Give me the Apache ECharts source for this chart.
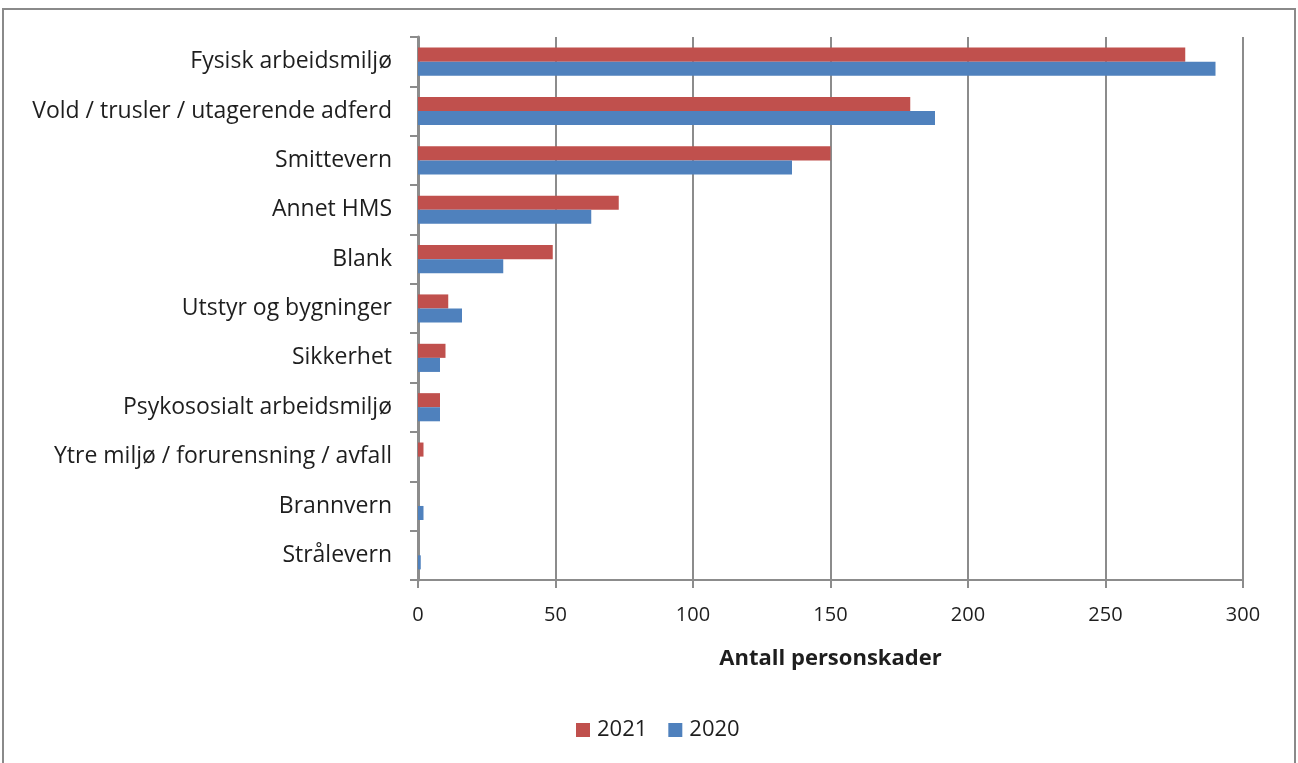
<!DOCTYPE html>
<html>
<head>
<meta charset="utf-8">
<script src="https://cdn.jsdelivr.net/npm/echarts@6/dist/echarts.min.js"></script>
<style>
  html, body { margin: 0; padding: 0; background: #fff; }
  #chart { width: 1298px; height: 763px; }
</style>
</head>
<body>
<div id="chart"></div>
<script>
// Arbeidsrelaterte personskader fordelt på kategori
const categories = [
  'Fysisk arbeidsmiljø',
  'Vold / trusler / utagerende adferd',
  'Smittevern',
  'Annet HMS',
  'Blank',
  'Utstyr og bygninger',
  'Sikkerhet',
  'Psykososialt arbeidsmiljø',
  'Ytre miljø / forurensning / avfall',
  'Brannvern',
  'Strålevern'
];
const values2021 = [279, 179, 150, 73, 49, 11, 10, 8, 2, 0, 0];
const values2020 = [290, 188, 136, 63, 31, 16, 8, 8, 0, 2, 1];
const xTicks = { min: 0, max: 300, interval: 50 };

const FONT = '"Open Sans", Lato, sans-serif';
const GRAY = '#8c8c8c';
const TEXT = '#1e1e1e';

const chart = echarts.init(document.getElementById('chart'), null, { renderer: 'canvas' });

chart.setOption({
  animation: false,
  backgroundColor: '#fff',
  graphic: [{
    type: 'rect',
    shape: { x: 3, y: 9, width: 1292, height: 800 },
    style: { fill: 'none', stroke: '#8a8a8a', lineWidth: 2 },
    silent: true
  }],
  grid: { left: 418, right: 55, top: 37, bottom: 183, containLabel: false },
  legend: {
    data: ['2021', '2020'],
    left: 571,
    top: 714,
    icon: 'rect',
    itemWidth: 14,
    itemHeight: 14,
    itemGap: 21,
    textStyle: { fontFamily: FONT, fontSize: 22, color: TEXT, padding: [0, 0, 0, 2] }
  },
  xAxis: {
    type: 'value',
    min: xTicks.min,
    max: xTicks.max,
    interval: xTicks.interval,
    name: 'Antall personskader',
    nameLocation: 'middle',
    nameGap: 68,
    nameTextStyle: { fontFamily: FONT, fontSize: 22, fontWeight: 'bold', color: TEXT },
    axisLine: { show: true, lineStyle: { color: GRAY, width: 2 } },
    axisTick: { show: true, length: 8, lineStyle: { color: GRAY, width: 2 } },
    axisLabel: { margin: 25, fontFamily: FONT, fontSize: 20, color: TEXT },
    splitLine: { show: true, lineStyle: { color: GRAY, width: 2 } }
  },
  yAxis: {
    type: 'category',
    data: categories,
    inverse: true,
    axisLine: { show: true, lineStyle: { color: GRAY, width: 3 } },
    axisTick: { show: true, length: 8, lineStyle: { color: GRAY, width: 2 } },
    axisLabel: { margin: 26, fontFamily: FONT, fontSize: 23, color: TEXT, padding: [3, 0, 0, 0] },
    splitLine: { show: false }
  },
  series: [
    {
      name: '2021',
      type: 'bar',
      data: values2021,
      itemStyle: { color: '#c0504d' },
      barGap: '0%',
      barCategoryGap: '43%'
    },
    {
      name: '2020',
      type: 'bar',
      data: values2020,
      itemStyle: { color: '#4f81bd' },
      barGap: '0%',
      barCategoryGap: '43%'
    }
  ]
});
</script>
</body>
</html>
